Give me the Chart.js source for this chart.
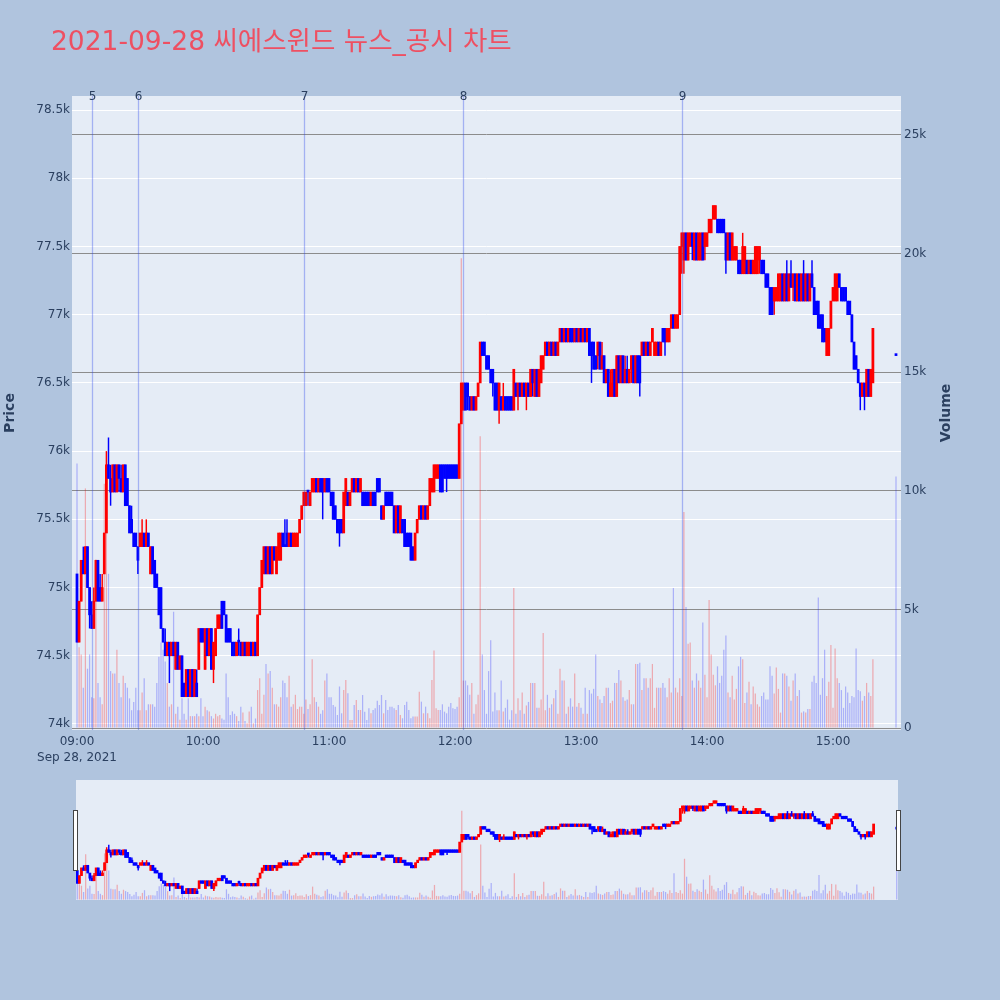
<!DOCTYPE html>
<html><head><meta charset="utf-8">
<script src="https://cdn.jsdelivr.net/npm/chart.js@4.4.0/dist/chart.umd.min.js"></script>
<style>
html,body{margin:0;padding:0;background:#B0C4DE;width:1000px;height:1000px;overflow:hidden;}
#wrap{position:relative;width:1000px;height:1000px;}
#main{position:absolute;left:0;top:0;}
#slider{position:absolute;left:76px;top:780px;}
.handle{position:absolute;top:810px;width:3px;height:59px;background:#fff;border:1px solid #444;}
</style></head>
<body><div id="wrap">
<canvas id="main" width="1000" height="1000"></canvas>
<canvas id="slider" width="822" height="120"></canvas>
<div class="handle" style="left:73px"></div>
<div class="handle" style="left:896px"></div>
</div>
<script>
const chartTitle = '2021-09-28 씨에스윈드 뉴스_공시 차트';
const sessionStart = '09:00';
const dateLabel = 'Sep 28, 2021';
const xTickLabels = ['09:00','10:00','11:00','12:00','13:00','14:00','15:00'];
const priceTicks = [74000,74500,75000,75500,76000,76500,77000,77500,78000,78500];
const volumeTicks = [0,5000,10000,15000,20000,25000];
const eventLabels = ['5','6','7','8','9'];
const eventTimes = ['09:07','09:29','10:48','12:04','13:48'];

// one entry per minute from 09:00 (index 0) to 15:30 (index 390); null = no trade
const opens = [
75100,74600,74900,75200,75100,75300,75000,74800,74700,74900,
75200,75000,74900,75100,75400,75900,75800,75700,75900,75700,
75900,75800,75700,75900,75800,75600,75500,75400,75400,75300,
75300,75300,75400,75300,75400,75100,75300,75200,75100,75000,
75000,74700,74600,74500,74600,74500,74600,74400,74600,74400,
74500,74300,74200,74400,74200,74400,74200,74300,74400,74700,
74700,74400,74700,74500,74700,74400,74500,74700,74700,74900,
74900,74800,74700,74700,74600,74600,74500,74600,74600,74500,
74600,74500,74500,74600,74500,74600,74500,74800,75000,75100,
75300,75100,75300,75100,75300,75100,75200,75200,75400,75300,
75400,75300,75400,75300,75300,75300,75400,75500,75600,75600,
75700,75600,75700,75700,75800,75700,75800,75800,75700,75800,
75800,75700,75700,75600,75500,75500,75500,75400,75600,75700,
75600,75700,75800,75700,75800,75700,75700,75700,75700,75700,
75600,75700,75700,75800,75800,75600,75500,75700,75700,75700,
75700,75600,75400,75600,75400,75500,75500,75400,75400,75400,
75300,75200,75400,75500,75600,75500,75600,75500,75600,75700,
75700,75800,75800,75900,75900,75900,75900,75900,75900,75900,
75900,75900,75800,76200,76300,76500,76500,76400,76300,76400,
76300,76400,76500,76800,76800,76700,76700,76600,76600,76500,
76500,76300,76400,76300,76400,76400,76400,76400,76300,76500,
76400,76500,76400,76500,76400,76500,76400,76600,76400,76600,
76400,76500,76600,76700,76800,76700,76800,76700,76800,76700,
76800,76900,76800,76900,76800,76900,76900,76800,76900,76800,
76900,76800,76900,76800,76900,76800,76800,76700,76700,76800,
76600,76700,76500,76600,76400,76400,76600,76400,76700,76500,
76700,76500,76600,76500,76600,76700,76500,76700,76700,76700,
76800,76700,76800,76700,76800,76700,76700,76800,76700,76900,
76900,76800,76800,76900,77000,76900,76900,77000,77500,77400,
77600,77400,77500,77600,77400,77600,77400,77400,77600,77500,
77500,77600,77600,77700,77700,77700,77700,77700,77700,77600,
77400,77600,77400,77400,77400,77400,77400,77300,77300,77400,
77300,77400,77300,77300,77300,77400,77400,77400,77300,77300,
77200,77200,77100,77100,77100,77100,77300,77100,77300,77100,
77300,77200,77300,77100,77300,77100,77300,77100,77300,77100,
77300,77200,77100,77100,77000,77000,76900,76700,76700,76900,
77100,77100,77100,77300,77200,77200,77200,77100,77100,77000,
76800,76700,76600,76500,76400,76500,76400,76600,76400,76500,
null,null,null,null,null,null,null,null,null,null,
76700];
const highs = [
75100,74900,75200,75300,75300,75300,75000,74900,75000,75200,
75200,75100,75100,75400,76000,76100,75900,75900,75900,75900,
75900,75900,75900,75900,75800,75600,75600,75400,75400,75300,
75400,75500,75400,75500,75400,75300,75300,75200,75100,75000,
75000,74700,74700,74600,74600,74600,74600,74600,74600,74500,
74500,74300,74400,74400,74400,74400,74400,74400,74700,74700,
74700,74700,74700,74700,74700,74600,74700,74800,74800,74900,
74900,74800,74700,74700,74600,74600,74600,74700,74600,74600,
74600,74600,74600,74600,74600,74600,74800,75000,75200,75300,
75300,75300,75300,75300,75300,75300,75400,75400,75400,75500,
75500,75400,75400,75400,75400,75400,75500,75600,75700,75700,
75700,75700,75800,75800,75800,75800,75800,75800,75800,75800,
75800,75700,75700,75600,75500,75500,75500,75700,75800,75700,
75700,75800,75800,75800,75800,75800,75700,75700,75700,75700,
75700,75700,75700,75800,75800,75600,75600,75700,75700,75700,
75700,75600,75600,75600,75600,75500,75500,75400,75400,75400,
75300,75400,75500,75600,75600,75600,75600,75600,75800,75800,
75900,75900,75900,75900,75900,75900,75900,75900,75900,75900,
75900,75900,76200,76500,76500,76500,76500,76400,76400,76400,
76400,76500,76800,76800,76800,76700,76700,76600,76600,76500,
76500,76500,76400,76500,76400,76400,76400,76400,76600,76500,
76500,76500,76500,76500,76500,76500,76600,76600,76600,76600,
76600,76700,76700,76800,76800,76800,76800,76800,76800,76800,
76900,76900,76900,76900,76900,76900,76900,76900,76900,76900,
76900,76900,76900,76900,76900,76800,76800,76700,76800,76800,
76800,76700,76600,76600,76600,76600,76600,76700,76700,76700,
76700,76700,76700,76600,76700,76700,76700,76700,76700,76800,
76800,76800,76800,76800,76900,76800,76800,76800,76800,76900,
76900,76900,76900,77000,77000,77000,77000,77500,77600,77600,
77600,77600,77600,77600,77600,77600,77600,77600,77600,77600,
77600,77700,77700,77800,77800,77700,77700,77700,77700,77600,
77600,77600,77600,77500,77500,77400,77400,77600,77500,77400,
77400,77400,77400,77500,77500,77500,77400,77400,77300,77300,
77200,77200,77200,77200,77300,77300,77300,77300,77400,77300,
77400,77300,77300,77300,77300,77300,77400,77300,77300,77300,
77400,77200,77100,77100,77000,77000,76900,76900,76900,77100,
77200,77300,77300,77300,77200,77200,77200,77100,77100,77000,
76800,76700,76600,76500,76500,76500,76600,76600,76600,76900,
null,null,null,null,null,null,null,null,null,null,
76700];
const lows = [
74600,74600,74900,75100,75100,75000,74700,74700,74700,74900,
74900,74900,74900,75100,75400,75800,75600,75700,75700,75700,
75700,75700,75700,75600,75600,75400,75400,75300,75300,75100,
75300,75300,75300,75300,75300,75100,75100,75000,75000,74800,
74700,74600,74500,74500,74300,74500,74500,74400,74400,74400,
74200,74200,74200,74200,74200,74200,74200,74200,74400,74600,
74600,74400,74500,74500,74400,74300,74500,74700,74700,74700,
74800,74600,74600,74600,74500,74500,74500,74500,74500,74500,
74500,74500,74500,74500,74500,74500,74500,74800,75000,75100,
75100,75100,75100,75100,75200,75100,75200,75200,75300,75300,
75300,75300,75300,75300,75300,75300,75400,75500,75600,75600,
75600,75600,75700,75700,75700,75700,75700,75500,75700,75700,
75700,75600,75500,75500,75400,75300,75400,75400,75600,75600,
75600,75700,75700,75700,75700,75700,75600,75600,75600,75600,
75600,75600,75600,75700,75700,75500,75500,75600,75600,75600,
75600,75400,75400,75400,75400,75400,75300,75300,75300,75200,
75200,75200,75400,75500,75500,75500,75500,75500,75600,75700,
75700,75800,75800,75700,75700,75800,75700,75800,75800,75800,
75800,75800,75800,76200,76300,76300,76300,76300,76300,76300,
76300,76400,76500,76700,76700,76600,76600,76500,76400,76300,
76300,76200,76300,76300,76300,76300,76300,76300,76300,76400,
76300,76400,76400,76400,76300,76400,76400,76400,76400,76400,
76400,76500,76600,76700,76700,76700,76700,76700,76700,76700,
76800,76800,76800,76800,76800,76800,76800,76800,76800,76800,
76800,76800,76800,76800,76700,76500,76600,76600,76600,76600,
76600,76500,76500,76400,76400,76400,76400,76400,76500,76500,
76500,76500,76500,76500,76500,76500,76500,76500,76400,76700,
76700,76700,76700,76700,76800,76700,76700,76700,76700,76800,
76700,76800,76800,76900,76900,76900,76900,77000,77300,77300,
77400,77400,77500,77400,77400,77400,77400,77400,77400,77400,
77500,77600,77600,77700,77700,77600,77600,77600,77600,77300,
77400,77400,77400,77400,77400,77300,77300,77300,77300,77300,
77300,77300,77300,77300,77300,77300,77300,77300,77200,77200,
77000,77000,77000,77100,77100,77100,77100,77100,77100,77100,
77200,77100,77100,77100,77100,77100,77100,77100,77100,77100,
77200,77000,77000,76900,76900,76800,76800,76700,76700,76900,
77100,77100,77100,77200,77100,77100,77100,77000,77000,76800,
76600,76600,76500,76300,76400,76300,76400,76400,76400,76500,
null,null,null,null,null,null,null,null,null,null,
76700];
const closes = [
74600,74900,75200,75100,75300,75000,74800,74700,74900,75200,
74900,74900,75000,75400,75900,75800,75700,75900,75700,75900,
75800,75700,75900,75600,75600,75400,75400,75300,75300,75200,
75400,75400,75300,75400,75300,75300,75100,75000,75000,74800,
74700,74600,74500,74600,74500,74600,74500,74600,74400,74500,
74200,74200,74400,74200,74400,74200,74400,74200,74700,74600,
74600,74700,74500,74700,74400,74600,74700,74800,74800,74700,
74800,74600,74600,74600,74500,74500,74600,74600,74500,74600,
74500,74600,74600,74500,74600,74500,74800,75000,75200,75300,
75100,75300,75100,75300,75200,75300,75400,75400,75300,75300,
75300,75400,75300,75400,75400,75400,75500,75600,75700,75700,
75700,75700,75800,75800,75700,75800,75700,75700,75800,75700,
75700,75600,75500,75500,75400,75400,75400,75700,75800,75600,
75700,75800,75700,75800,75700,75800,75600,75600,75600,75600,
75700,75600,75600,75700,75700,75500,75600,75600,75600,75600,
75600,75400,75600,75400,75600,75400,75300,75300,75300,75200,
75200,75400,75500,75600,75500,75600,75500,75600,75800,75800,
75900,75900,75900,75700,75700,75800,75800,75800,75800,75800,
75800,75800,76200,76500,76500,76300,76400,76300,76400,76300,
76400,76500,76800,76700,76700,76600,76600,76500,76500,76300,
76300,76500,76300,76400,76300,76300,76300,76300,76600,76400,
76500,76400,76500,76400,76500,76400,76600,76500,76600,76400,
76600,76700,76700,76800,76700,76800,76700,76800,76700,76800,
76900,76800,76900,76800,76900,76800,76800,76900,76800,76900,
76800,76900,76800,76900,76700,76700,76600,76600,76800,76600,
76700,76500,76600,76400,76500,76600,76400,76700,76500,76700,
76500,76600,76500,76600,76700,76500,76700,76500,76500,76800,
76700,76800,76700,76800,76900,76800,76800,76700,76800,76800,
76800,76900,76900,77000,76900,77000,77000,77500,77600,77600,
77400,77600,77600,77500,77600,77400,77600,77600,77400,77600,
77600,77700,77700,77800,77800,77600,77600,77600,77600,77400,
77600,77400,77600,77500,77500,77300,77300,77500,77500,77300,
77400,77300,77400,77500,77500,77500,77300,77300,77200,77200,
77000,77000,77200,77200,77300,77300,77100,77300,77100,77300,
77200,77300,77100,77300,77100,77300,77100,77300,77100,77300,
77200,77000,77000,76900,76900,76800,76800,76900,76900,77100,
77200,77300,77300,77200,77100,77100,77100,77000,77000,76800,
76600,76600,76500,76400,76500,76400,76600,76400,76600,76900,
null,null,null,null,null,null,null,null,null,null,
76700];
const volumes = [
11150,3400,3100,1700,10100,2500,3100,1300,1250,7100,
1900,1300,1000,10300,9000,6500,2400,2300,2300,3300,
1900,1300,2200,1900,1700,1250,750,1100,1700,750,
750,1500,2100,750,1000,1000,1000,900,1900,3000,
3600,3300,2800,1900,900,1000,4900,600,900,350,
1250,600,350,1250,500,500,500,600,500,1250,
500,900,750,700,500,400,600,500,550,400,
350,2300,1300,550,700,600,500,300,900,650,
300,200,700,900,200,400,1600,2100,600,1400,
2700,2300,2400,1700,1000,1000,900,1300,2000,1900,
1300,2200,900,1000,1400,800,900,900,600,1200,
800,1000,2900,1300,1100,900,600,750,2000,2300,
1300,1300,970,900,550,1750,620,1600,2020,1460,
340,340,970,1180,760,760,1390,690,340,830,
620,760,830,1150,970,1390,620,1180,760,900,
900,830,760,970,550,410,970,1110,760,410,
480,480,480,1530,1110,620,900,620,410,2020,
3270,830,760,760,1000,690,620,900,1050,830,
800,900,1300,19800,2000,2000,1800,1400,1900,600,
1000,1400,12300,3100,1600,600,2400,3700,700,1500,
750,750,2000,700,850,1200,350,750,5900,600,
1250,750,1500,600,950,1100,1900,1900,1900,850,
850,1200,4000,750,1400,850,1000,1250,1600,600,
2500,2000,2000,600,900,1250,900,2300,900,1050,
850,600,1700,600,1600,1450,1650,3100,1350,1200,
1050,1350,1700,1700,1050,1150,1900,1900,2450,2000,
1300,1150,1200,1600,1000,1000,2700,2700,2750,1600,
2100,2100,1700,2100,2700,850,1700,1700,1700,1900,
1700,1300,2100,1500,5900,1700,1500,2100,1350,9100,
5100,3550,3600,2000,1700,2300,2000,1700,4450,2250,
1300,5400,3100,2250,1800,2600,1900,2200,3300,3900,
1500,1300,2200,1200,1650,2600,3000,2900,1050,1500,
1950,1000,1750,1450,1000,900,1350,1500,1200,1200,
2600,2200,1450,2550,1650,650,2300,2300,2200,1750,
1150,2000,2300,1350,1600,650,700,650,800,800,
1950,2200,1900,5500,1400,2100,3300,1350,1950,3500,
850,3350,2100,1900,1600,850,1750,1500,1050,1350,
1300,3350,1600,1550,1150,1350,1900,1500,1350,2900,
null,null,null,null,null,null,null,null,null,null,
10600];

function toMin(t){
  const [h,m]=t.split(':').map(Number);
  const [h0,m0]=sessionStart.split(':').map(Number);
  return (h-h0)*60+(m-m0);
}

const UP='#FF0000', DOWN='#0000FF';
const UP_V='rgba(255,0,0,0.28)', DOWN_V='rgba(0,0,255,0.25)';
const bodyData=[], wickData=[], volData=[];
for(let i=0;i<opens.length;i++){
  if(opens[i]==null) continue;
  const up = closes[i] > opens[i];
  bodyData.push({x:i, y:[opens[i], closes[i]], up});
  wickData.push({x:i, y:[lows[i], highs[i]], up});
  volData.push({x:i, y:volumes[i], up});
}
const col = (a,b)=> c => (c.raw && c.raw.up) ? a : b;

function makeDatasets(){
  return [
    {type:'bar', data:bodyData, yAxisID:'y', grouped:false, order:1, barPercentage:1, categoryPercentage:1, minBarLength:2, borderWidth:0, backgroundColor:col(UP,DOWN)},
    {type:'bar', data:wickData, yAxisID:'y', grouped:false, order:2, barPercentage:0.7, categoryPercentage:1, borderWidth:0, backgroundColor:col(UP,DOWN)},
    {type:'bar', data:volData, yAxisID:'y1', grouped:false, order:3, barPercentage:0.6, categoryPercentage:1, borderWidth:0, backgroundColor:col(UP_V,DOWN_V)}
  ];
}

const TXT='#2a3f5f';
const FONT='"DejaVu Sans", "Noto Sans CJK KR", sans-serif';
const PRICE_MIN=73956, PRICE_MAX=78603, VOL_MIN=-84, VOL_MAX=26640;

const bgPlugin = {
  id:'bgfill',
  beforeDraw(chart){
    const {ctx, chartArea:a} = chart;
    ctx.save(); ctx.fillStyle='#E5ECF6';
    ctx.fillRect(a.left, a.top, a.right-a.left, a.bottom-a.top);
    ctx.restore();
  }
};

const decoPlugin = {
  id:'deco',
  afterDatasetsDraw(chart){
    const {ctx, chartArea:a, scales} = chart;
    ctx.save();
    eventTimes.forEach((t,i)=>{
      const px = Math.round(scales.x.getPixelForValue(toMin(t)))+0.5;
      ctx.strokeStyle = 'rgba(40,70,235,0.35)';
      ctx.lineWidth = 1.3;
      ctx.beginPath(); ctx.moveTo(px, a.top); ctx.lineTo(px, a.bottom); ctx.stroke();
      ctx.fillStyle = TXT; ctx.font = '12px '+FONT;
      ctx.textAlign='center'; ctx.textBaseline='middle';
      ctx.fillText(eventLabels[i], px, a.top+0.5);
    });
    ctx.restore();
  },
  afterDraw(chart){
    const {ctx, chartArea:a} = chart;
    ctx.save();
    ctx.fillStyle='#EE5062';
    ctx.font='26.5px '+FONT;
    ctx.textAlign='left'; ctx.textBaseline='alphabetic';
    ctx.fillText(chartTitle, 51, 50);
    ctx.fillStyle=TXT;
    ctx.font='bold 14px '+FONT;
    ctx.textAlign='center'; ctx.textBaseline='middle';
    const cy=(a.top+a.bottom)/2;
    ctx.translate(10, cy); ctx.rotate(-Math.PI/2); ctx.fillText('Price',0,0);
    ctx.setTransform(1,0,0,1,0,0);
    ctx.translate(946, cy); ctx.rotate(-Math.PI/2); ctx.fillText('Volume',0,0);
    ctx.restore();
  }
};

new Chart(document.getElementById('main'), {
  type:'bar',
  data:{datasets:makeDatasets()},
  options:{
    responsive:false, animation:false, events:[],
    layout:{padding:{top:96,left:0,right:0,bottom:0}},
    plugins:{legend:{display:false}, tooltip:{enabled:false}, title:{display:false}},
    scales:{
      x:{type:'linear', min:-2.38, max:392.38, offset:false,
        grid:{display:false, drawTicks:false, offset:false}, border:{display:false},
        afterBuildTicks:s=>{ s.ticks = xTickLabels.map(t=>({value:toMin(t)})); },
        afterFit:s=>{ s.height = 270; },
        ticks:{autoSkip:false, maxRotation:0, minRotation:0, padding:4, color:TXT,
          font:{family:FONT, size:12, lineHeight:1.35},
          callback:(v,i)=> i===0 ? [xTickLabels[0], dateLabel] : xTickLabels[i]}
      },
      y:{position:'left', min:PRICE_MIN, max:PRICE_MAX,
        grid:{color:'#ffffff', lineWidth:1, drawTicks:false}, border:{display:false},
        afterBuildTicks:s=>{ s.ticks = priceTicks.map(v=>({value:v})); },
        afterFit:s=>{ s.width = 72; },
        ticks:{padding:2, color:TXT, font:{family:FONT, size:12}, callback:v=> (v/1000)+'k'}
      },
      y1:{position:'right', min:VOL_MIN, max:VOL_MAX,
        grid:{color:'#8c8c8c', lineWidth:1, drawTicks:false}, border:{display:false},
        afterBuildTicks:s=>{ s.ticks = volumeTicks.map(v=>({value:v})); },
        afterFit:s=>{ s.width = 99; },
        ticks:{padding:3, color:TXT, font:{family:FONT, size:12}, callback:v=> v===0 ? '0' : (v/1000)+'k'}
      }
    }
  },
  plugins:[bgPlugin, decoPlugin]
});

const sliderBg = {
  id:'sliderbg',
  beforeDraw(chart){
    const {ctx, width, height} = chart;
    ctx.save(); ctx.fillStyle='#E5ECF6'; ctx.fillRect(0,0,width,height); ctx.restore();
  }
};

new Chart(document.getElementById('slider'), {
  type:'bar',
  data:{datasets:makeDatasets()},
  options:{
    responsive:false, animation:false, events:[],
    layout:{padding:0},
    plugins:{legend:{display:false}, tooltip:{enabled:false}},
    scales:{
      x:{type:'linear', display:false, min:-0.6, max:390.6, offset:false, grid:{offset:false}},
      y:{display:false, min:PRICE_MIN, max:PRICE_MAX},
      y1:{display:false, min:VOL_MIN, max:VOL_MAX}
    }
  },
  plugins:[sliderBg]
});
</script>
</body></html>
